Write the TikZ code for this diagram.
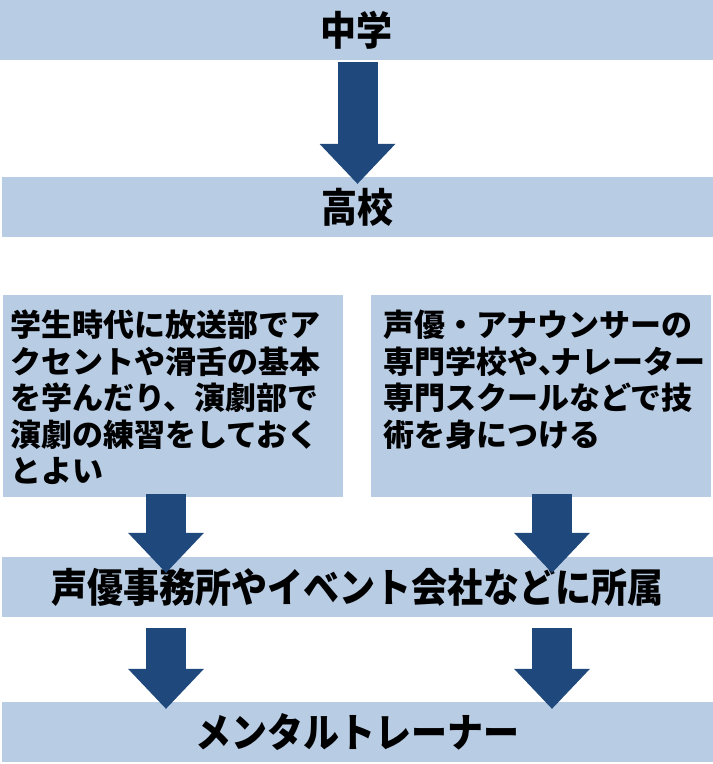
\documentclass[tikz,border=0pt]{standalone}
\usepackage{fontspec}
\newfontfamily\jp{Noto Sans CJK JP}
\newfontfamily\jpt{Noto Sans CJK JP}[FakeStretch=0.9]
\usetikzlibrary{arrows.meta}
\definecolor{barfill}{HTML}{B8CCE4}
\definecolor{arrowblue}{HTML}{1F497D}
\tikzset{
  bar/.style={fill=barfill, inner sep=0pt, minimum width=711pt, minimum height=60pt,
    font=\jpt\bfseries\fontsize{40}{44}\selectfont},
  panel/.style={fill=barfill, inner sep=0pt, minimum width=340pt, minimum height=202pt},
  paneltext/.style={anchor=north west, inner sep=0pt, align=left,
    font=\jp\bfseries\fontsize{31}{36.5}\selectfont},
  flow/.style={draw=arrowblue, line width=40pt,
    -{Triangle[width=76pt,length=40pt,line width=0pt,fill=arrowblue]}},
}
\newcommand{\hcomma}{\makebox[0.4em][l]{、}}
\begin{document}
\begin{tikzpicture}[x=1pt,y=-1pt]
\useasboundingbox (0,0) rectangle (713,764);
\node[bar, minimum width=713pt] (top) at (356.5,30) {中学};
\node[bar] (kou) at (357.5,207) {高校};
\node[panel] (lbox) at (173,396) {};
\node[panel] (rbox) at (541,396) {};
\node[paneltext] (ltext) at (10,310) {学生時代に放送部でア\\クセントや滑舌の基本\\を学んだり、演劇部で\\演劇の練習をしておく\\とよい};
\node[paneltext] (rtext) at (383,310) {声優・アナウンサーの\\専門学校や\hcomma ナレーター\\専門スクールなどで技\\術を身につける};
\node[bar] (mid) at (357.5,587) {声優事務所やイベント会社などに所属};
\node[bar] (bot) at (357.5,732) {メンタルトレーナー};
\coordinate (colL) at (166,0);
\coordinate (colR) at (552,0);
\draw[flow] ([yshift=-2pt]top.south -| kou.north) -- ([yshift=-7pt]kou.north);
\draw[flow] ([yshift=3pt]colL |- lbox.south) -- ([yshift=-16pt]colL |- mid.north);
\draw[flow] ([yshift=3pt]colR |- rbox.south) -- ([yshift=-16pt]colR |- mid.north);
\draw[flow] ([yshift=-11pt]colL |- mid.south) -- ([yshift=-7pt]colL |- bot.north);
\draw[flow] ([yshift=-11pt]colR |- mid.south) -- ([yshift=-7pt]colR |- bot.north);
\end{tikzpicture}
\end{document}
